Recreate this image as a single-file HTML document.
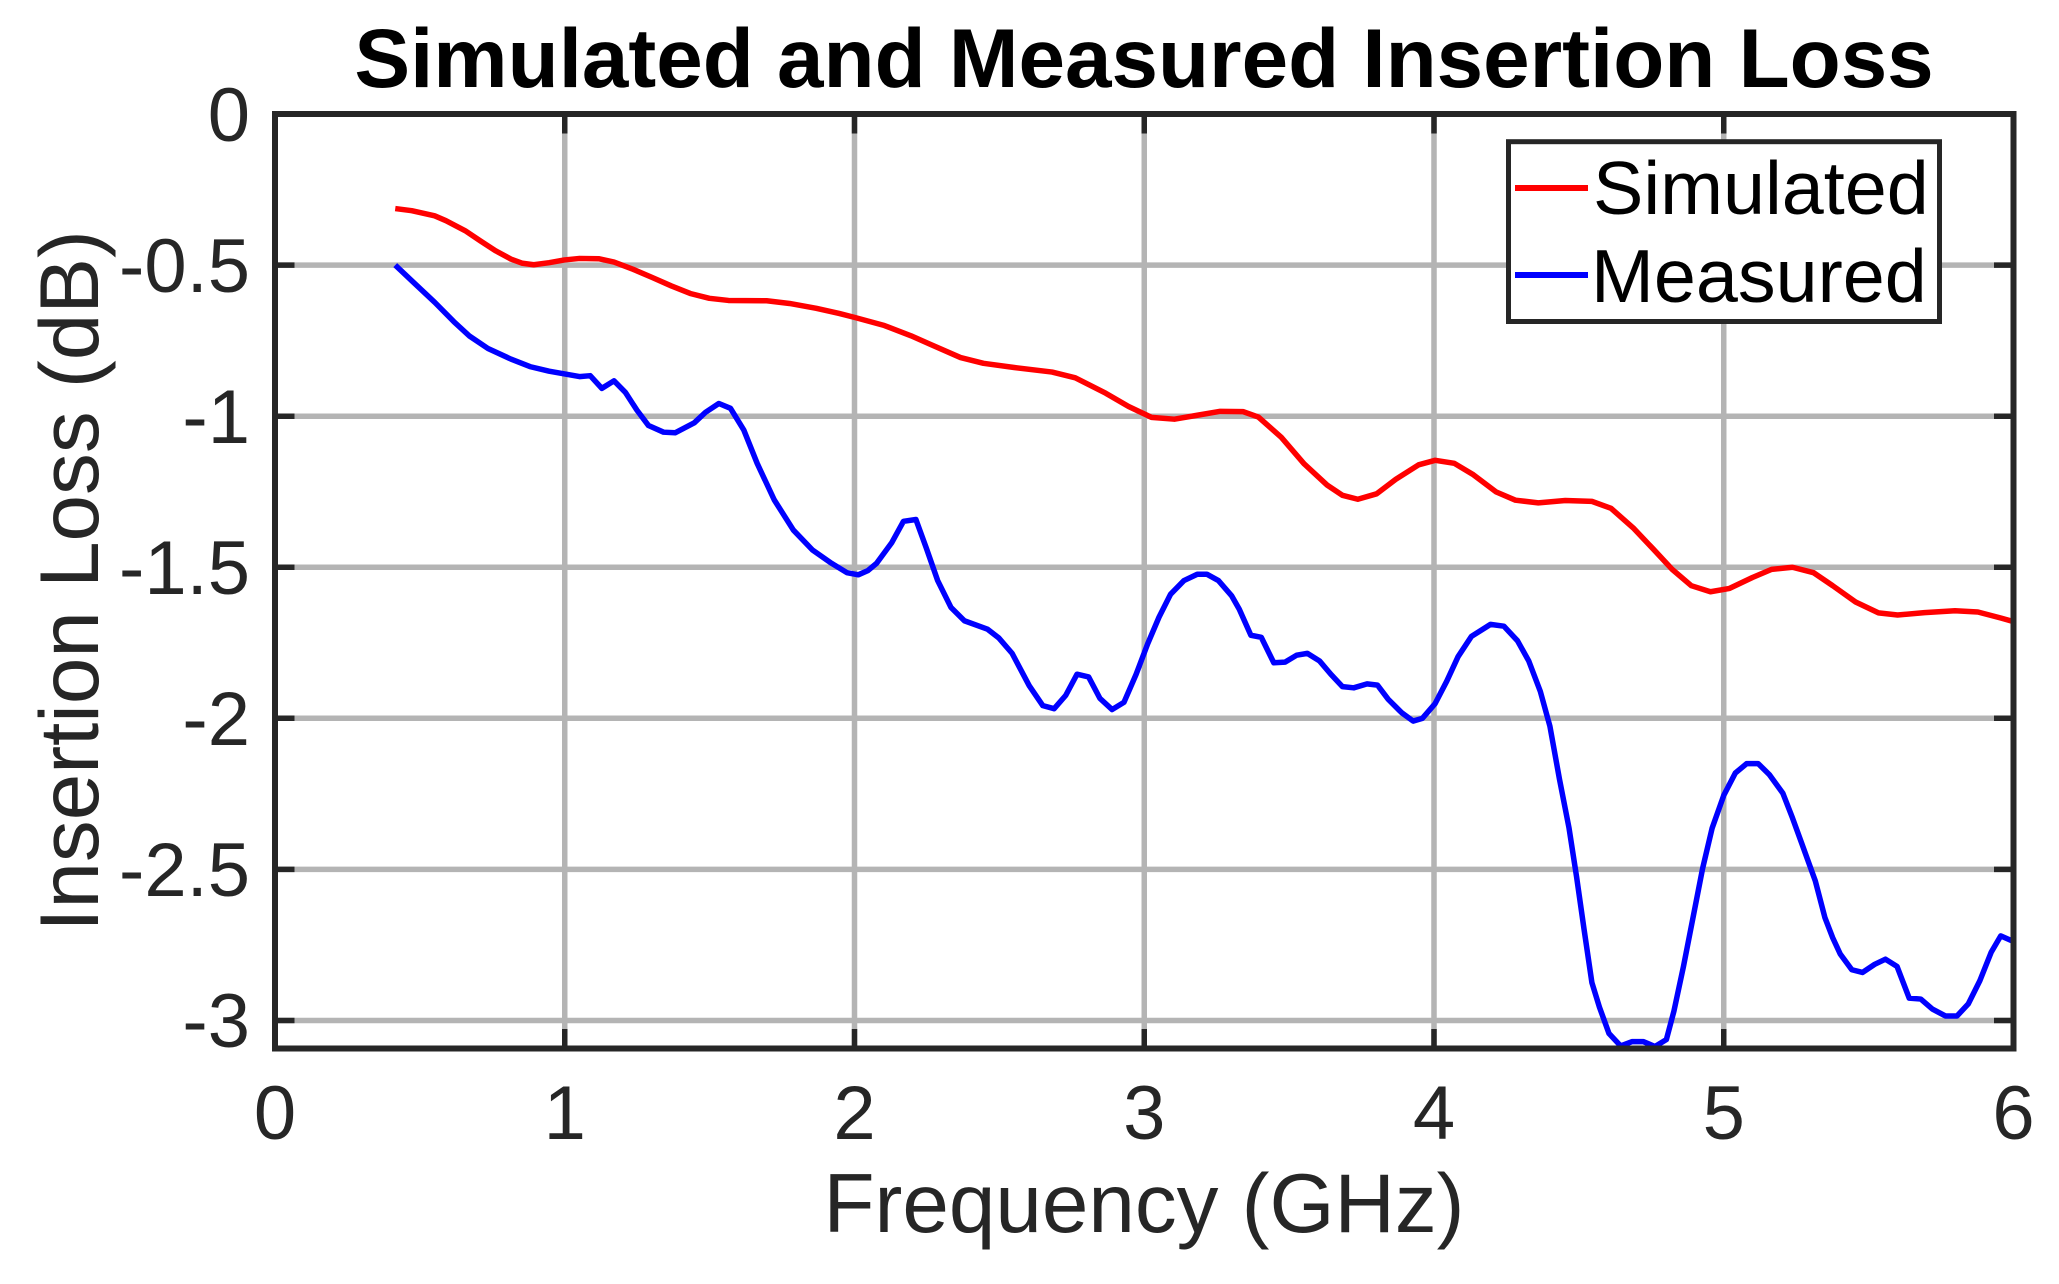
<!DOCTYPE html>
<html>
<head>
<meta charset="utf-8">
<style>
html,body{margin:0;padding:0;background:#fff;}
svg{display:block;}
text{font-family:"Liberation Sans",Arial,Helvetica,sans-serif;}
</style>
</head>
<body>
<svg width="2059" height="1284" viewBox="0 0 2059 1284" xmlns="http://www.w3.org/2000/svg">
<rect x="0" y="0" width="2059" height="1284" fill="#ffffff"/>
<defs>
<clipPath id="pa"><rect x="275" y="114" width="1738.5" height="934.5"/></clipPath>
</defs>

<!-- grid -->
<g stroke="#b4b4b4" stroke-width="5.5">
<line x1="564.75" y1="114" x2="564.75" y2="1048.5"/>
<line x1="854.5" y1="114" x2="854.5" y2="1048.5"/>
<line x1="1144.25" y1="114" x2="1144.25" y2="1048.5"/>
<line x1="1434" y1="114" x2="1434" y2="1048.5"/>
<line x1="1723.75" y1="114" x2="1723.75" y2="1048.5"/>
<line x1="275" y1="265.1" x2="2013.5" y2="265.1"/>
<line x1="275" y1="416.2" x2="2013.5" y2="416.2"/>
<line x1="275" y1="567.3" x2="2013.5" y2="567.3"/>
<line x1="275" y1="718.3" x2="2013.5" y2="718.3"/>
<line x1="275" y1="869.4" x2="2013.5" y2="869.4"/>
<line x1="275" y1="1020.5" x2="2013.5" y2="1020.5"/>
</g>

<!-- ticks -->
<g stroke="#262626" stroke-width="5.5">
<line x1="564.75" y1="114" x2="564.75" y2="133.5"/>
<line x1="854.5" y1="114" x2="854.5" y2="133.5"/>
<line x1="1144.25" y1="114" x2="1144.25" y2="133.5"/>
<line x1="1434" y1="114" x2="1434" y2="133.5"/>
<line x1="1723.75" y1="114" x2="1723.75" y2="133.5"/>
<line x1="564.75" y1="1048.5" x2="564.75" y2="1029"/>
<line x1="854.5" y1="1048.5" x2="854.5" y2="1029"/>
<line x1="1144.25" y1="1048.5" x2="1144.25" y2="1029"/>
<line x1="1434" y1="1048.5" x2="1434" y2="1029"/>
<line x1="1723.75" y1="1048.5" x2="1723.75" y2="1029"/>
<line x1="275" y1="265.1" x2="294.5" y2="265.1"/>
<line x1="275" y1="416.2" x2="294.5" y2="416.2"/>
<line x1="275" y1="567.3" x2="294.5" y2="567.3"/>
<line x1="275" y1="718.3" x2="294.5" y2="718.3"/>
<line x1="275" y1="869.4" x2="294.5" y2="869.4"/>
<line x1="275" y1="1020.5" x2="294.5" y2="1020.5"/>
<line x1="2013.5" y1="265.1" x2="1994" y2="265.1"/>
<line x1="2013.5" y1="416.2" x2="1994" y2="416.2"/>
<line x1="2013.5" y1="567.3" x2="1994" y2="567.3"/>
<line x1="2013.5" y1="718.3" x2="1994" y2="718.3"/>
<line x1="2013.5" y1="869.4" x2="1994" y2="869.4"/>
<line x1="2013.5" y1="1020.5" x2="1994" y2="1020.5"/>
</g>

<!-- data -->
<g clip-path="url(#pa)">
<g transform="matrix(289.75 0 0 -302.17 275 114)" fill="none" stroke-linejoin="round" stroke-linecap="butt">
<polyline vector-effect="non-scaling-stroke" stroke="#ff0000" stroke-width="5.5" points="
0.415,-0.313 0.472,-0.320 0.551,-0.337 0.590,-0.353 0.656,-0.386 0.709,-0.420 0.762,-0.453 0.814,-0.480 0.854,-0.494 0.893,-0.499 0.946,-0.492 0.999,-0.483 1.051,-0.478 1.117,-0.479 1.170,-0.490 1.236,-0.514 1.302,-0.541 1.368,-0.569 1.433,-0.594 1.499,-0.610 1.565,-0.617 1.697,-0.618 1.776,-0.627 1.868,-0.643 1.947,-0.660 2.0,-0.673 2.103,-0.700 2.195,-0.734 2.261,-0.762 2.366,-0.806 2.445,-0.825 2.551,-0.839 2.682,-0.854 2.762,-0.873 2.867,-0.924 2.946,-0.968 3.025,-1.004 3.104,-1.010 3.183,-0.997 3.262,-0.984 3.341,-0.985 3.394,-1.003 3.473,-1.070 3.552,-1.158 3.631,-1.228 3.684,-1.262 3.737,-1.275 3.802,-1.257 3.868,-1.209 3.947,-1.161 4.004,-1.146 4.070,-1.156 4.136,-1.194 4.215,-1.251 4.281,-1.278 4.360,-1.287 4.453,-1.279 4.545,-1.282 4.611,-1.305 4.690,-1.372 4.756,-1.439 4.822,-1.507 4.888,-1.561 4.954,-1.581 5.020,-1.570 5.099,-1.534 5.165,-1.507 5.237,-1.500 5.310,-1.518 5.376,-1.561 5.455,-1.615 5.534,-1.651 5.600,-1.658 5.693,-1.650 5.798,-1.644 5.877,-1.648 5.956,-1.668 6.0,-1.680"/>
<polyline vector-effect="non-scaling-stroke" stroke="#0000ff" stroke-width="5.5" points="
0.415,-0.500 0.472,-0.552 0.551,-0.623 0.617,-0.687 0.670,-0.734 0.735,-0.776 0.814,-0.811 0.880,-0.836 0.946,-0.851 1.051,-0.869 1.088,-0.866 1.128,-0.908 1.170,-0.883 1.209,-0.921 1.249,-0.980 1.289,-1.031 1.341,-1.053 1.381,-1.055 1.447,-1.022 1.486,-0.987 1.532,-0.958 1.572,-0.974 1.618,-1.046 1.664,-1.156 1.723,-1.277 1.789,-1.377 1.855,-1.443 1.921,-1.487 1.974,-1.518 2.013,-1.525 2.046,-1.511 2.076,-1.487 2.129,-1.418 2.169,-1.348 2.212,-1.342 2.248,-1.437 2.287,-1.544 2.333,-1.633 2.379,-1.677 2.459,-1.705 2.498,-1.734 2.544,-1.785 2.603,-1.892 2.650,-1.958 2.689,-1.968 2.729,-1.924 2.768,-1.854 2.808,-1.863 2.847,-1.934 2.889,-1.971 2.930,-1.947 2.972,-1.854 3.012,-1.753 3.051,-1.665 3.091,-1.589 3.137,-1.544 3.183,-1.523 3.216,-1.523 3.256,-1.544 3.302,-1.595 3.328,-1.639 3.368,-1.725 3.404,-1.732 3.447,-1.816 3.486,-1.814 3.526,-1.791 3.563,-1.785 3.605,-1.810 3.644,-1.854 3.684,-1.895 3.723,-1.899 3.769,-1.886 3.805,-1.890 3.842,-1.937 3.888,-1.981 3.928,-2.009 3.960,-2.000 4.004,-1.951 4.044,-1.877 4.083,-1.796 4.129,-1.729 4.195,-1.689 4.241,-1.695 4.288,-1.743 4.327,-1.810 4.367,-1.911 4.400,-2.026 4.433,-2.201 4.466,-2.363 4.492,-2.524 4.518,-2.699 4.545,-2.875 4.571,-2.956 4.604,-3.043 4.644,-3.084 4.683,-3.070 4.723,-3.070 4.763,-3.086 4.802,-3.063 4.828,-2.969 4.861,-2.821 4.894,-2.659 4.927,-2.497 4.960,-2.363 5.000,-2.255 5.040,-2.181 5.079,-2.150 5.119,-2.150 5.158,-2.187 5.204,-2.248 5.237,-2.329 5.270,-2.416 5.316,-2.538 5.349,-2.659 5.376,-2.726 5.402,-2.780 5.442,-2.832 5.479,-2.841 5.521,-2.814 5.558,-2.797 5.598,-2.821 5.640,-2.926 5.680,-2.929 5.720,-2.962 5.765,-2.985 5.805,-2.985 5.844,-2.945 5.884,-2.868 5.923,-2.774 5.956,-2.720 5.996,-2.737"/>
</g>
</g>

<!-- axes box -->
<rect x="275" y="114" width="1738.5" height="934.5" fill="none" stroke="#262626" stroke-width="6" stroke-linejoin="miter"/>

<!-- tick labels -->
<g font-size="76" fill="#262626" text-anchor="middle">
<text x="275" y="1139">0</text>
<text x="564.75" y="1139">1</text>
<text x="854.5" y="1139">2</text>
<text x="1144.25" y="1139">3</text>
<text x="1434" y="1139">4</text>
<text x="1723.75" y="1139">5</text>
<text x="2013.5" y="1139">6</text>
</g>
<g font-size="76" fill="#262626" text-anchor="end">
<text x="250" y="141">0</text>
<text x="250" y="292">-0.5</text>
<text x="250" y="443">-1</text>
<text x="250" y="594">-1.5</text>
<text x="250" y="745">-2</text>
<text x="250" y="896">-2.5</text>
<text x="250" y="1047">-3</text>
</g>

<!-- axis labels -->
<text x="1144" y="1232" font-size="83.6" fill="#262626" text-anchor="middle">Frequency (GHz)</text>
<text transform="translate(98,581) rotate(-90)" x="0" y="0" font-size="83.6" fill="#262626" text-anchor="middle">Insertion Loss (dB)</text>

<!-- title -->
<text x="1144" y="87" font-size="83.6" font-weight="bold" fill="#000000" text-anchor="middle">Simulated and Measured Insertion Loss</text>

<!-- legend -->
<rect x="1508.5" y="141.7" width="431" height="179.8" fill="#ffffff" stroke="#262626" stroke-width="5"/>
<line x1="1515" y1="188" x2="1588" y2="188" stroke="#ff0000" stroke-width="6"/>
<line x1="1515" y1="275" x2="1588" y2="275" stroke="#0000ff" stroke-width="6"/>
<text x="1593" y="214" font-size="75.5" fill="#000000">Simulated</text>
<text x="1591" y="302" font-size="75.5" fill="#000000">Measured</text>
</svg>
</body>
</html>
